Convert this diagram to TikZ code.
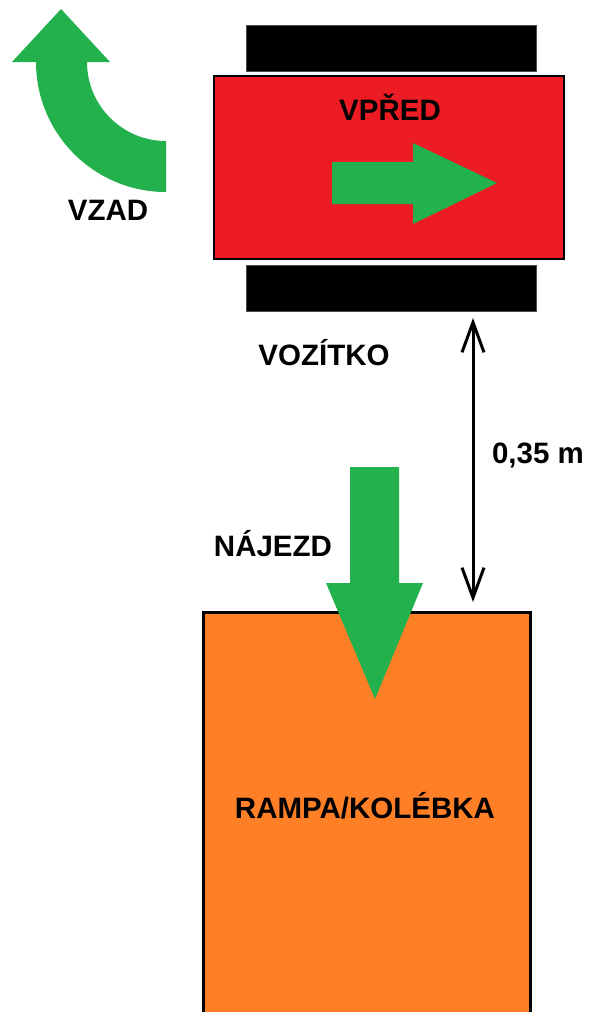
\documentclass[tikz,border=0pt]{standalone}
\usepackage{fontspec}
\setmainfont{Liberation Sans}
\usetikzlibrary{arrows.meta}
\definecolor{pred}{HTML}{ED1C24}
\definecolor{pgreen}{HTML}{22B14C}
\definecolor{porange}{HTML}{FF7F27}
\begin{document}
\begin{tikzpicture}[x=1pt,y=-1pt,
  lbl/.style={inner sep=0pt, anchor=base, font=\fontsize{29.5}{34}\selectfont\bfseries},
  wheel/.style={draw=black!70, line width=0.6pt, fill=black, minimum width=290pt, minimum height=46pt, inner sep=0pt},
  body/.style={draw=black, line width=2.2pt, fill=pred, minimum width=350pt, minimum height=183pt, inner sep=0pt},
  ramp/.style={draw=black, line width=3pt, fill=porange, minimum width=327pt, minimum height=420pt, inner sep=0pt},
  greenarrow/.style={fill=pgreen, draw=none},
  dim/.style={line width=3pt, {Straight Barb[length=30pt,width=22pt,line width=3pt]}-{Straight Barb[length=30pt,width=22pt,line width=3pt]}}
]
\useasboundingbox (0,0) rectangle (589,1012);
% vehicle
\node[wheel] (wheeltop) at (391,48) {};
\node[wheel] (wheelbot) at (391,288) {};
\node[body] (car) at (389,167.5) {};
% ramp
\node[ramp] (ramp) at (366.5,822) {};
% green arrows
\fill[greenarrow] (332,162) -- (413,162) -- (413,143) -- (497,183) -- (413,224) -- (413,204) -- (332,204) -- cycle;
\fill[greenarrow] (350,467) -- (399,467) -- (399,583) -- (423,583) -- (375,699) -- (326,583) -- (350,583) -- cycle;
\fill[greenarrow] (12,62) -- (61,9) -- (110,62) -- (87,62)
  arc[start angle=180, end angle=90, radius=79] -- (166,192)
  arc[start angle=90, end angle=180, radius=130] -- cycle;
% dimension
\coordinate (dtop) at (473,318);
\coordinate (dbot) at (473,602);
\draw[dim] (dtop) -- (dbot);
% labels
\node[lbl] (vpred) at (390,120) {VPŘED};
\node[lbl] (vzad) at (108,220) {VZAD};
\node[lbl] (vozitko) at (324,365) {VOZÍTKO};
\node[lbl] (dist) at (538,463) {0,35 m};
\node[lbl] (najezd) at (273,556) {NÁJEZD};
\node[lbl] (rampa) at (365,818) {RAMPA/KOLÉBKA};
\end{tikzpicture}
\end{document}
